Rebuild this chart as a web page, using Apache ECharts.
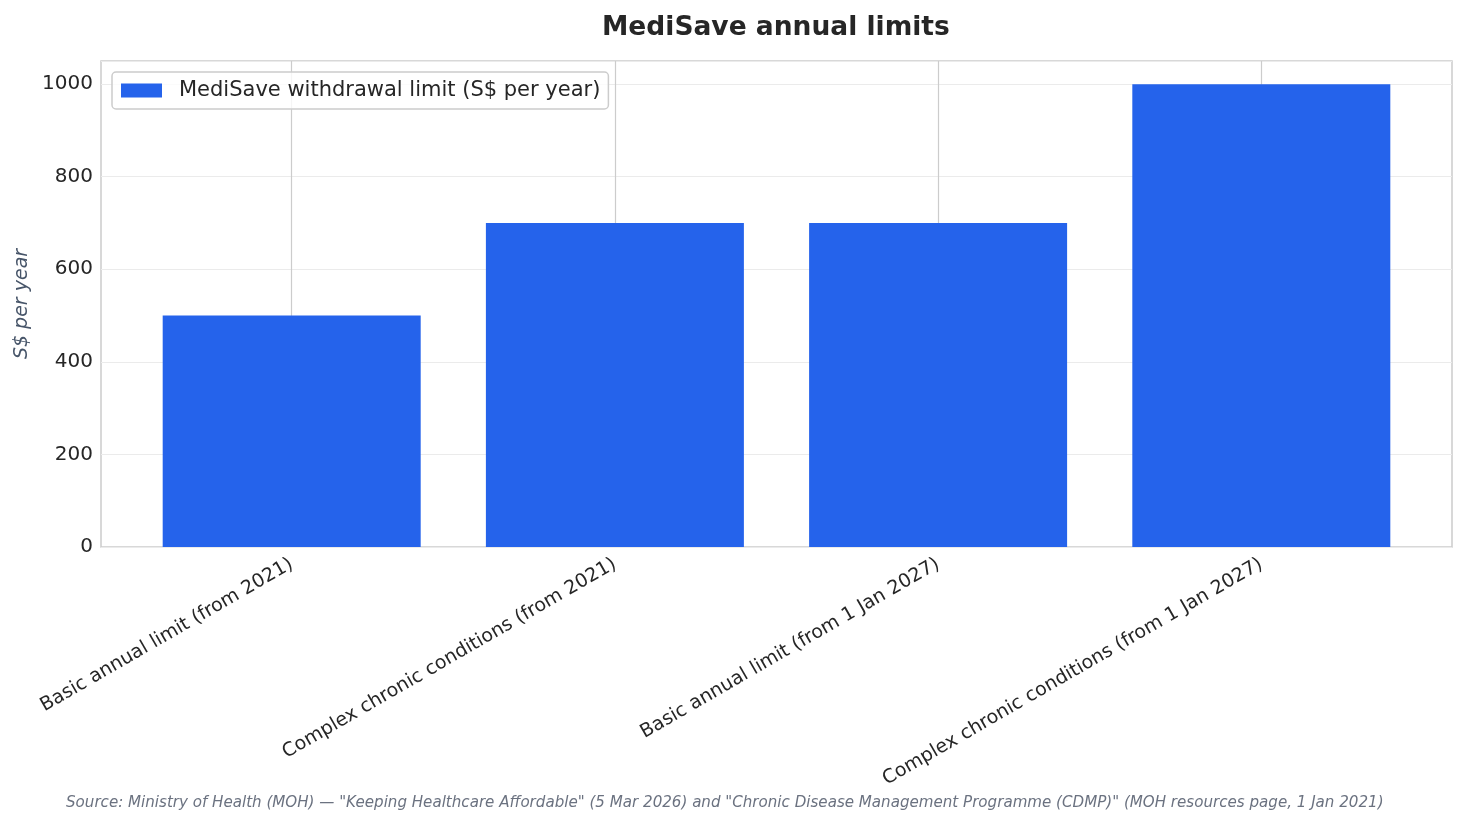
<!DOCTYPE html>
<html><head><meta charset="utf-8">
<script src="https://cdn.jsdelivr.net/npm/echarts@6/dist/echarts.min.js"></script>
<style>html,body{margin:0;padding:0;background:#fff}#c{width:1468px;height:824px}</style>
</head><body><div id="c"></div>
<script>
const categories = [
  "Basic annual limit (from 2021)",
  "Complex chronic conditions (from 2021)",
  "Basic annual limit (from 1 Jan 2027)",
  "Complex chronic conditions (from 1 Jan 2027)"
];
const limitValues = [500, 700, 700, 1000];
const yTicks = [0, 200, 400, 600, 800, 1000];
const seriesName = "MediSave withdrawal limit (S$ per year)";
const titleText = "MediSave annual limits";
const yAxisName = "S$ per year";
const sourceText = 'Source: Ministry of Health (MOH) \u2014 "Keeping Healthcare Affordable" (5 Mar 2026) and "Chronic Disease Management Programme (CDMP)" (MOH resources page, 1 Jan 2021)';

const font = "DejaVu Sans";
const positions = categories.map((_, i) => i);
const chart = echarts.init(document.getElementById('c'), null, {renderer: 'canvas'});
chart.setOption({
  backgroundColor: '#ffffff',
  animation: false,
  title: [{
    text: titleText, left: 597, top: 10,
    textStyle: {fontFamily: font, fontSize: 26.5, fontWeight: 'bold', color: '#262626'}
  }, {
    text: sourceText, left: 61, top: 791,
    textStyle: {fontFamily: font, fontSize: 15.1, fontStyle: 'italic', fontWeight: 'normal', color: '#6b7280'}
  }],
  legend: {
    left: 112, top: 72, orient: 'vertical',
    itemWidth: 41, itemHeight: 14, itemGap: 10,
    padding: [8, 8, 8, 9],
    borderColor: '#cccccc', borderWidth: 1.5, borderRadius: 4,
    backgroundColor: 'rgba(255,255,255,0.8)',
    textStyle: {fontFamily: font, fontSize: 21, color: '#262626', padding: [0, 0, 0, 12]},
    data: [{name: seriesName, icon: 'rect'}]
  },
  grid: {left: 101, right: 16, top: 61, bottom: 277, show: true, borderColor: '#cccccc', borderWidth: 1.5},
  xAxis: {
    type: 'value', min: -0.59, max: 3.59,
    axisLine: {show: false},
    axisTick: {show: false, customValues: positions},
    splitLine: {show: true, lineStyle: {color: '#cccccc', width: 1.2}},
    axisLabel: {
      customValues: positions, rotate: 30, margin: 16,
      fontFamily: font, fontSize: 19, color: '#262626',
      formatter: v => categories[Math.round(v)]
    }
  },
  yAxis: {
    type: 'value', min: 0, max: 1050, interval: 200,
    name: yAxisName, nameLocation: 'middle', nameGap: 64, nameRotate: 90,
    nameTextStyle: {fontFamily: font, fontSize: 19, fontStyle: 'italic', color: '#475569'},
    axisLine: {show: false}, axisTick: {show: false},
    splitLine: {show: true, lineStyle: {color: '#ebebeb', width: 1.2}},
    axisLabel: {
      customValues: yTicks, fontFamily: font, fontSize: 20, color: '#262626', margin: 8,
      formatter: v => String(v)
    }
  },
  series: [{
    name: seriesName, type: 'bar', barWidth: 258,
    itemStyle: {color: '#2563eb'},
    data: limitValues.map((v, i) => [positions[i], v]),
    z: 3
  }]
});
</script></body></html>
